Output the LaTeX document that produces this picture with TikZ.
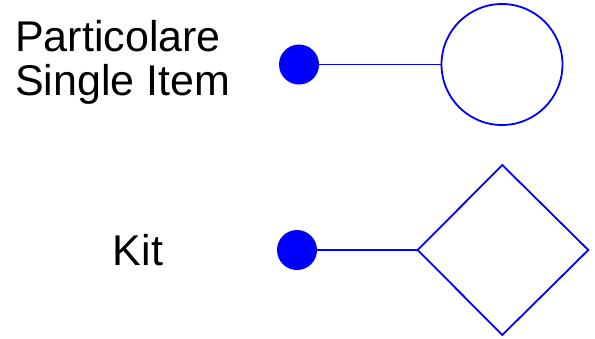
\documentclass[tikz,border=0pt]{standalone}
\usepackage{fontspec}
\setmainfont{Liberation Sans}
\usetikzlibrary{shapes.geometric}
\begin{document}
\begin{tikzpicture}[x=1pt,y=-1pt,
  dot/.style={circle,fill=blue,inner sep=0pt,minimum size=40pt},
  wire/.style={draw=blue,line width=1.8pt},
  label/.style={font=\fontsize{43}{43.5}\selectfont,inner sep=0pt}]

\useasboundingbox (0,0) rectangle (595,338);

\node[label,align=left,anchor=base west] (single) at (15,95.2) {Particolare\\Single Item};
\node[label,anchor=base] (kit) at (138,265) {Kit};

\node[dot] (dotA) at (299,64.5) {};
\node[circle,draw=blue,line width=1.8pt,minimum size=121pt,inner sep=0pt] (item) at (502,64.5) {};
\draw[wire] (dotA) -- (item);

\node[dot] (dotB) at (297,250) {};
\draw[wire] (417.7,250) coordinate (kl) -- (502.3,165) -- (588.3,250) -- (502.3,335) -- cycle;
\draw[wire] (dotB) -- (kl);

\end{tikzpicture}
\end{document}
